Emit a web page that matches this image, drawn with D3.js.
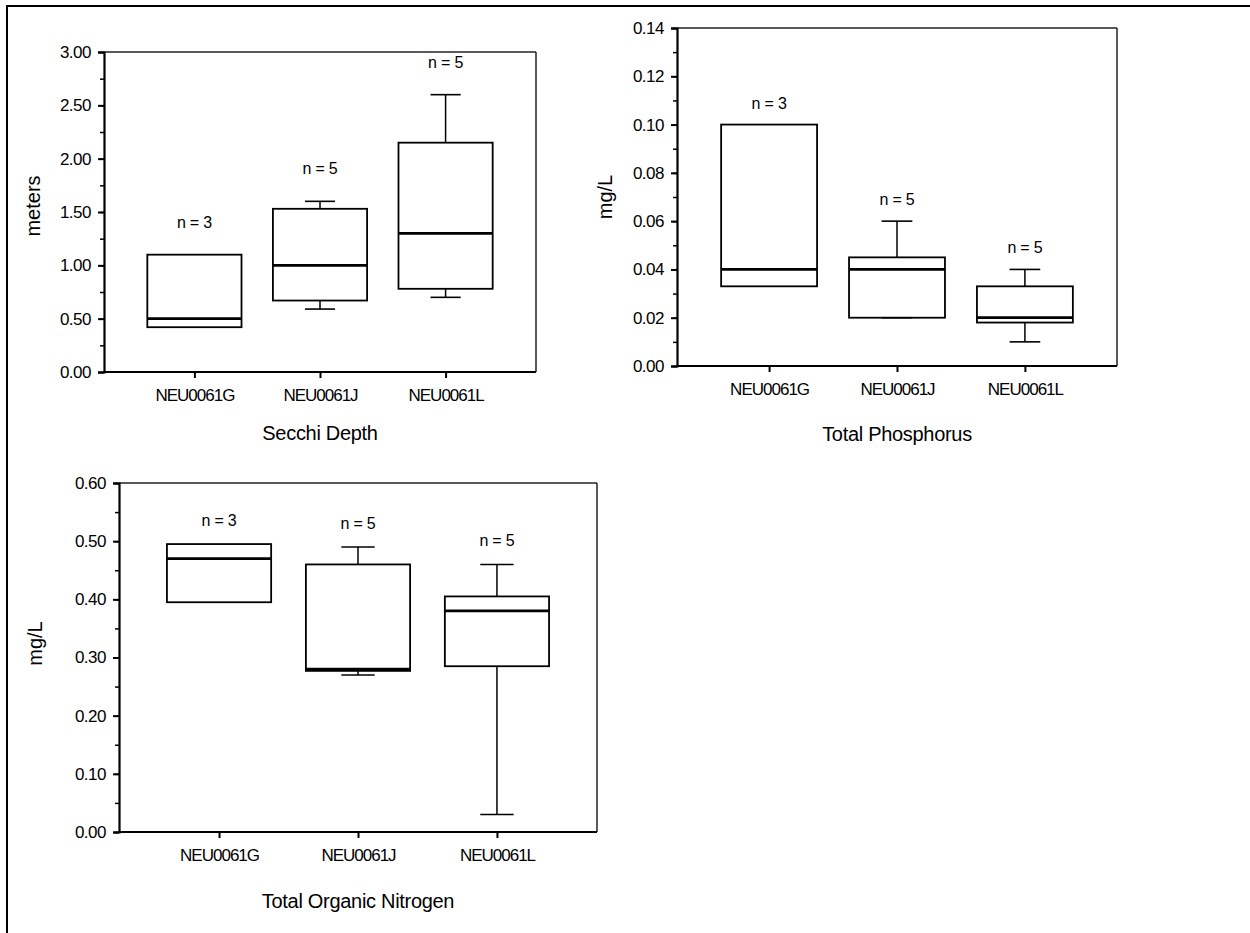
<!DOCTYPE html>
<html>
<head>
<meta charset="utf-8">
<script src="https://cdn.jsdelivr.net/npm/d3@7"></script>
<style>
  html, body { margin: 0; padding: 0; background: #fff; }
  svg { display: block; }
  text { font-family: "Liberation Sans", Arial, sans-serif; fill: #000; }
</style>
</head>
<body>
<svg id="chart" width="1250" height="933"></svg>
<script>
// ---------- DATA ----------
const categories = ["NEU0061G", "NEU0061J", "NEU0061L"];

// Secchi Depth (meters)
const secchiN      = [3, 5, 5];
const secchiMin    = [null, 0.59, 0.70];
const secchiQ1     = [0.42, 0.67, 0.78];
const secchiMedian = [0.50, 1.00, 1.30];
const secchiQ3     = [1.10, 1.53, 2.15];
const secchiMax    = [null, 1.60, 2.60];
const secchiTicks  = [0, 0.5, 1.0, 1.5, 2.0, 2.5, 3.0];

// Total Phosphorus (mg/L)
const phosN      = [3, 5, 5];
const phosMin    = [null, 0.02, 0.01];
const phosQ1     = [0.033, 0.02, 0.018];
const phosMedian = [0.04, 0.04, 0.02];
const phosQ3     = [0.10, 0.045, 0.033];
const phosMax    = [null, 0.06, 0.04];
const phosTicks  = [0, 0.02, 0.04, 0.06, 0.08, 0.10, 0.12, 0.14];

// Total Organic Nitrogen (mg/L)
const tonN      = [3, 5, 5];
const tonMin    = [null, 0.27, 0.03];
const tonQ1     = [0.395, 0.277, 0.285];
const tonMedian = [0.47, 0.28, 0.38];
const tonQ3     = [0.495, 0.46, 0.405];
const tonMax    = [null, 0.49, 0.46];
const tonTicks  = [0, 0.1, 0.2, 0.3, 0.4, 0.5, 0.6];

// ---------- LAYOUT ----------
const panels = [
  { title: "Secchi Depth", ylabel: "meters",
    n: secchiN, min: secchiMin, q1: secchiQ1, med: secchiMedian, q3: secchiQ3, max: secchiMax,
    ticks: secchiTicks, minorStep: 0.25,
    left: 104, right: 536, top: 52, bottom: 372,
    ylabelX: 33, ylabelShift: -6, titleDy: 68, nOffset: 27 },
  { title: "Total Phosphorus", ylabel: "mg/L",
    n: phosN, min: phosMin, q1: phosQ1, med: phosMedian, q3: phosQ3, max: phosMax,
    ticks: phosTicks, minorStep: 0.01,
    left: 677, right: 1117, top: 28, bottom: 366,
    ylabelX: 605, ylabelShift: 0, titleDy: 75, nOffset: 16 },
  { title: "Total Organic Nitrogen", ylabel: "mg/L",
    n: tonN, min: tonMin, q1: tonQ1, med: tonMedian, q3: tonQ3, max: tonMax,
    ticks: tonTicks, minorStep: 0.05,
    left: 119, right: 597, top: 483, bottom: 832,
    ylabelX: 35, ylabelShift: -14, titleDy: 76, nOffset: 18 }
];

const svg = d3.select("#chart");

// outer frame (right/bottom edges fall outside the picture)
svg.append("rect")
  .attr("x", 7).attr("y", 6)
  .attr("width", 1260).attr("height", 960)
  .attr("fill", "none").attr("stroke", "#000").attr("stroke-width", 2);

const boxW = 0.75, capW = 0.24;

panels.forEach(p => {
  const g = svg.append("g");
  const yMax = p.ticks[p.ticks.length - 1];
  const x = d3.scaleLinear().domain([0.28, 3.72]).range([p.left, p.right]);
  const y = d3.scaleLinear().domain([0, yMax]).range([p.bottom, p.top]);

  // top and right borders
  g.append("line").attr("x1", p.left).attr("x2", p.right).attr("y1", p.top).attr("y2", p.top)
    .attr("stroke", "#222").attr("stroke-width", 1.5);
  g.append("line").attr("x1", p.right).attr("x2", p.right).attr("y1", p.top).attr("y2", p.bottom)
    .attr("stroke", "#222").attr("stroke-width", 1.5);

  // minor ticks
  const minorVals = d3.range(0, yMax + 1e-9, p.minorStep);
  const minor = g.append("g").attr("transform", `translate(${p.left},0)`)
    .call(d3.axisLeft(y).tickValues(minorVals).tickSize(4).tickFormat(""));
  minor.select(".domain").remove();
  minor.selectAll("line").attr("stroke", "#000").attr("stroke-width", 1.5);

  // y axis
  const ya = g.append("g").attr("transform", `translate(${p.left},0)`)
    .call(d3.axisLeft(y).tickValues(p.ticks).tickSize(6).tickPadding(7).tickFormat(d3.format(".2f")));
  ya.select(".domain").attr("stroke", "#000").attr("stroke-width", 2.2);
  ya.selectAll(".tick line").attr("stroke", "#000").attr("stroke-width", 2);
  ya.selectAll("text").style("font-size", "17px").style("letter-spacing", "-0.5px")
    .style("font-family", "'Liberation Sans', Arial, sans-serif").attr("fill", "#000");

  // x axis
  const xa = g.append("g").attr("transform", `translate(0,${p.bottom})`)
    .call(d3.axisBottom(x).tickValues([1, 2, 3]).tickSize(6).tickPadding(11)
      .tickFormat((d, i) => categories[i]));
  xa.select(".domain").attr("d", `M${p.left},0H${p.right}`).attr("stroke", "#000").attr("stroke-width", 2.2);
  xa.selectAll(".tick line").attr("stroke", "#000").attr("stroke-width", 2);
  xa.selectAll("text").style("font-size", "17px").style("letter-spacing", "-1px")
    .style("font-family", "'Liberation Sans', Arial, sans-serif").attr("fill", "#000");

  // boxes
  categories.forEach((c, i) => {
    const cx = x(i + 1);
    const x0 = x(i + 1 - boxW / 2), x1 = x(i + 1 + boxW / 2);
    const c0 = x(i + 1 - capW / 2), c1 = x(i + 1 + capW / 2);
    if (p.max[i] != null) {
      g.append("line").attr("x1", cx).attr("x2", cx).attr("y1", y(p.q3[i])).attr("y2", y(p.max[i]))
        .attr("stroke", "#000").attr("stroke-width", 1.5);
      g.append("line").attr("x1", c0).attr("x2", c1).attr("y1", y(p.max[i])).attr("y2", y(p.max[i]))
        .attr("stroke", "#000").attr("stroke-width", 1.6);
    }
    if (p.min[i] != null) {
      g.append("line").attr("x1", cx).attr("x2", cx).attr("y1", y(p.q1[i])).attr("y2", y(p.min[i]))
        .attr("stroke", "#000").attr("stroke-width", 1.5);
      g.append("line").attr("x1", c0).attr("x2", c1).attr("y1", y(p.min[i])).attr("y2", y(p.min[i]))
        .attr("stroke", "#000").attr("stroke-width", 1.6);
    }
    g.append("rect").attr("x", x0).attr("y", y(p.q3[i]))
      .attr("width", x1 - x0).attr("height", y(p.q1[i]) - y(p.q3[i]))
      .attr("fill", "none").attr("stroke", "#000").attr("stroke-width", 1.8);
    g.append("line").attr("x1", x0).attr("x2", x1).attr("y1", y(p.med[i])).attr("y2", y(p.med[i]))
      .attr("stroke", "#000").attr("stroke-width", 2.8);
    const topVal = p.max[i] != null ? p.max[i] : p.q3[i];
    g.append("text").attr("x", cx).attr("y", y(topVal) - p.nOffset)
      .attr("text-anchor", "middle").style("font-size", "16px").style("letter-spacing", "-0.2px")
      .text("n = " + p.n[i]);
  });

  // y label
  const ymid = (p.top + p.bottom) / 2 + p.ylabelShift;
  g.append("text").attr("transform", `translate(${p.ylabelX + 7},${ymid}) rotate(-90)`)
    .attr("text-anchor", "middle").style("font-size", "20px").text(p.ylabel);

  // title
  g.append("text").attr("x", (p.left + p.right) / 2).attr("y", p.bottom + p.titleDy)
    .attr("text-anchor", "middle").style("font-size", "20px").style("letter-spacing", "-0.3px")
    .text(p.title);
});
</script>
</body>
</html>
